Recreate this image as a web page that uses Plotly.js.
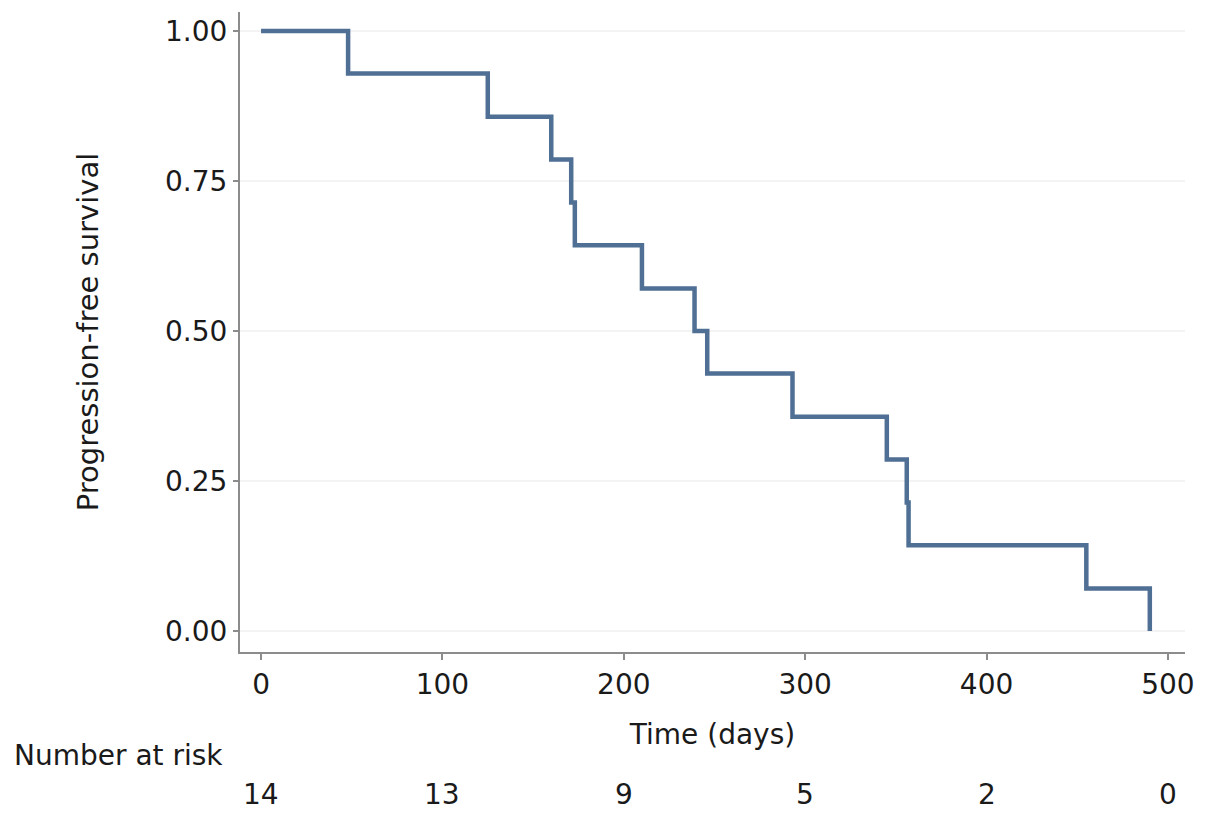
<!DOCTYPE html>
<html>
<head>
<meta charset="utf-8">
<script src="https://cdn.plot.ly/plotly-3.0.1.min.js"></script>
<style>html,body{margin:0;padding:0;background:#fff;}#chart{width:1205px;height:817px;}</style>
</head>
<body>
<div id="chart"></div>
<script>
// Kaplan-Meier step points (time in days, progression-free survival)
var timeDays = [0, 48, 125, 160, 171, 173, 210, 239, 246, 293, 345, 356, 357, 455, 490];
var survival = [1.000, 0.929, 0.857, 0.786, 0.714, 0.643, 0.571, 0.500, 0.429, 0.357, 0.286, 0.214, 0.143, 0.071, 0.000];

// Number at risk table
var riskTimes = [0, 100, 200, 300, 400, 500];
var riskCounts = [14, 13, 9, 5, 2, 0];

var xTicks = [0, 100, 200, 300, 400, 500];
var yTicks = [0, 0.25, 0.5, 0.75, 1];
var yTickText = ['0.00', '0.25', '0.50', '0.75', '1.00'];

var FONT = 'DejaVu Sans, Liberation Sans, Arial, sans-serif';
var TXT = '#1a1a1a';

var trace = {
  x: timeDays,
  y: survival,
  type: 'scatter',
  mode: 'lines',
  line: {shape: 'hv', color: '#4f6f94', width: 4.5},
  hoverinfo: 'x+y',
  showlegend: false
};

var annotations = [{
  text: 'Number at risk', xref: 'paper', yref: 'paper',
  x: -0.2413, y: -0.161, xanchor: 'left', yanchor: 'middle',
  showarrow: false, font: {family: FONT, size: 28, color: TXT}
}];
for (var i = 0; i < riskTimes.length; i++) {
  annotations.push({
    text: String(riskCounts[i]), xref: 'x', yref: 'paper',
    x: riskTimes[i], y: -0.2234, xanchor: 'center', yanchor: 'middle',
    showarrow: false, font: {family: FONT, size: 28, color: TXT}
  });
}

var layout = {
  width: 1205, height: 817,
  margin: {l: 240, r: 20, t: 12, b: 165},
  paper_bgcolor: '#ffffff', plot_bgcolor: '#ffffff',
  font: {family: FONT, size: 28, color: TXT},
  xaxis: {
    range: [-11.6, 509.4],
    tickmode: 'array', tickvals: xTicks, ticktext: xTicks.map(String),
    ticks: 'outside', ticklen: 6, tickwidth: 2, tickcolor: '#8c8c8c',
    showline: true, linecolor: '#8c8c8c', linewidth: 2,
    showgrid: false, zeroline: false,
    tickfont: {family: FONT, size: 28, color: TXT},
    title: {text: 'Time (days)', font: {family: FONT, size: 28, color: TXT}, standoff: 25}
  },
  yaxis: {
    range: [-0.035, 1.0317],
    tickmode: 'array', tickvals: yTicks, ticktext: yTickText,
    ticks: 'outside', ticklen: 5, tickwidth: 2, tickcolor: '#8c8c8c',
    showline: true, linecolor: '#8c8c8c', linewidth: 2,
    showgrid: true, gridcolor: '#f3f3f3', gridwidth: 2,
    zeroline: false,
    tickfont: {family: FONT, size: 28, color: TXT},
    title: {text: 'Progression-free survival', font: {family: FONT, size: 29, color: TXT}, standoff: 58}
  },
  annotations: annotations
};

Plotly.newPlot('chart', [trace], layout, {displayModeBar: false, staticPlot: true});
</script>
</body>
</html>
